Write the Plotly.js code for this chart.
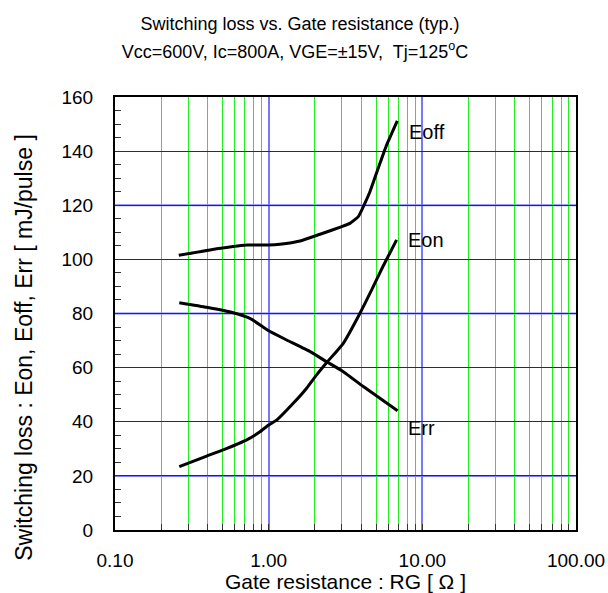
<!DOCTYPE html>
<html>
<head>
<meta charset="utf-8">
<script src="https://cdn.plot.ly/plotly-3.0.1.min.js"></script>
<style>html,body{margin:0;padding:0;background:#fff;}#chart{width:608px;height:593px;}</style>
</head>
<body>
<div id="chart"></div>
<script>
// Gate resistance (Ohm)
const rgEoff = [0.26, 0.415, 0.72, 1.0, 1.184, 1.6, 2.16, 2.99, 3.38, 3.83, 4.13, 4.56, 5.3, 5.86, 6.87];
const eoff   = [101.5, 103.5, 105.3, 105.3, 105.6, 106.8, 109.3, 112.1, 113.3, 115.8, 119.5, 125.0, 135.5, 142.3, 151.2];

const rgEon = [0.262, 0.395, 0.506, 0.72, 0.878, 1.0, 1.127, 1.445, 1.766, 2.05, 2.38, 3.06, 3.93, 4.68, 5.5, 6.8];
const eon   = [23.4, 27.3, 29.6, 33.3, 36.3, 38.8, 40.6, 46.8, 52.4, 57.3, 61.8, 69.0, 80.1, 88.7, 97.0, 107.2];

const rgErr = [0.262, 0.395, 0.588, 0.756, 1.0, 1.31, 1.86, 2.38, 3.06, 4.13, 6.9];
const err   = [84.0, 82.3, 80.3, 78.2, 73.6, 70.2, 65.9, 62.2, 58.5, 53.0, 44.1];

const curveNames = ['Eoff', 'Eon', 'Err'];
const labelX = [7.9, 7.8, 7.8];
const labelY = [147.2, 107.2, 37.8];

const xTickVals = [0.1, 1, 10, 100];
const xTickText = ['0.10', '1.00', '10.00', '100.00'];
const xMinorVals = [0.2,0.3,0.4,0.5,0.6,0.7,0.8,0.9, 2,3,4,5,6,7,8,9, 20,30,40,50,60,70,80,90];
const yLightGrid = [20, 80, 120];

const FONT = 'Arial, "Liberation Sans", sans-serif';
const lineStyle = {color: '#000000', width: 3, shape: 'spline', smoothing: 0.4};

const traces = [
  {x: rgEoff, y: eoff, name: curveNames[0], mode: 'lines', line: lineStyle},
  {x: rgEon,  y: eon,  name: curveNames[1], mode: 'lines', line: lineStyle},
  {x: rgErr,  y: err,  name: curveNames[2], mode: 'lines', line: lineStyle}
];

const annotations = curveNames.map((n, i) => ({
  x: Math.log10(labelX[i]), y: labelY[i], xref: 'x', yref: 'y',
  text: n, showarrow: false, xanchor: 'left', yanchor: 'middle',
  font: {family: FONT, size: 20, color: '#000'}
}));
annotations.push({
  text: 'Switching loss : Eon, Eoff, Err [ mJ/pulse ]',
  xref: 'paper', yref: 'paper', x: -0.198, y: (593 - 347 - 63) / (593 - 97 - 63),
  xanchor: 'center', yanchor: 'middle', textangle: -90, showarrow: false,
  font: {family: FONT, size: 23, color: '#000'}
});

const shapes = yLightGrid.map(v => ({
  type: 'line', xref: 'paper', x0: 0, x1: 1, yref: 'y', y0: v, y1: v,
  line: {color: '#7c7cff', width: 2}, layer: 'below'
}));

const layout = {
  width: 608, height: 593,
  margin: {l: 115, r: 32, t: 97, b: 63},
  paper_bgcolor: '#ffffff', plot_bgcolor: '#ffffff',
  showlegend: false,
  font: {family: FONT, color: '#000'},
  title: {
    text: '<span style="font-size:18px">Switching loss vs. Gate resistance (typ.)</span><br><span style="font-size:18px">Vcc=600V, Ic=800A, VGE=±15V,  Tj=125<sup>o</sup>C\u00a0\u00a0</span>',
    x: 0.4934, xanchor: 'center', y: 0.949, yanchor: 'middle',
    font: {family: FONT, size: 21, color: '#000'}
  },
  xaxis: {
    type: 'log', range: [-1, 2],
    tickvals: xTickVals, ticktext: xTickText,
    ticks: 'inside', ticklen: 6, tickcolor: '#333', tickwidth: 1,
    showgrid: true, gridcolor: '#7878ff', gridwidth: 2,
    minor: {tickvals: xMinorVals, ticks: 'inside', ticklen: 6, tickcolor: '#333',
            showgrid: true, gridcolor: '#22ee22', gridwidth: 1},
    showline: true, linecolor: '#000', linewidth: 2, mirror: true,
    zeroline: false,
    ticklabelstandoff: 12,
    tickfont: {family: FONT, size: 19, color: '#000'},
    title: {text: 'Gate resistance : RG [ Ω ]', standoff: 0,
            font: {family: FONT, size: 21, color: '#000'}}
  },
  yaxis: {
    range: [0, 160], dtick: 20, tick0: 0,
    ticks: 'inside', ticklen: 6, tickcolor: '#333', tickwidth: 1,
    showgrid: true, gridcolor: '#1a1acc', gridwidth: 1,
    minor: {dtick: 5, ticks: 'inside', ticklen: 6, tickcolor: '#333', showgrid: false},
    showline: true, linecolor: '#000', linewidth: 2, mirror: true,
    zeroline: false,
    ticklabelstandoff: 16,
    tickfont: {family: FONT, size: 19, color: '#000'}
  },
  annotations: annotations,
  shapes: shapes
};

Plotly.newPlot('chart', traces, layout, {displayModeBar: false, staticPlot: true});
</script>
</body>
</html>
